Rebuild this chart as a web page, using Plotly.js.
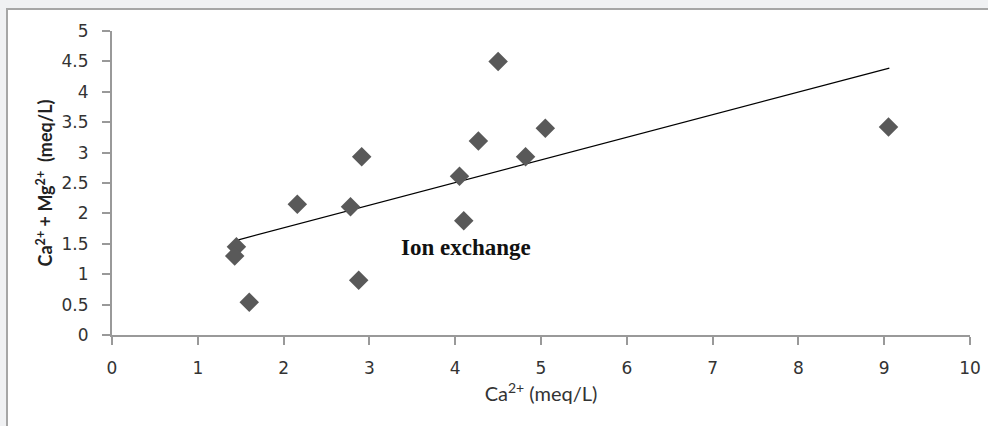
<!DOCTYPE html>
<html>
<head>
<meta charset="utf-8">
<script src="https://cdn.plot.ly/plotly-3.0.1.min.js"></script>
<style>
  html, body { margin: 0; padding: 0; background: #f0f1f3; width: 988px; height: 426px; overflow: hidden; }
  #frame { position: absolute; left: 6px; top: 8px; width: 1000px; height: 440px; background: #ffffff; border: 2px solid #a6a6a6; box-sizing: border-box; }
  #chart { position: absolute; left: 0; top: 0; width: 988px; height: 426px; }
</style>
</head>
<body>
<div id="frame"></div>
<div id="chart"></div>
<script>
// Data
const caValues   = [1.45, 1.43, 1.60, 2.16, 2.78, 2.875, 2.91, 4.05, 4.10, 4.27, 4.50, 4.82, 5.05, 9.05];
const caMgValues = [1.45, 1.30, 0.54, 2.15, 2.11, 0.90, 2.93, 2.61, 1.88, 3.19, 4.50, 2.93, 3.40, 3.42];
// Trend line end points (as drawn in the reference)
const trendX = [1.43, 9.06];
const trendY = [1.55, 4.39];
// Tick values
const xTicks = [0, 1, 2, 3, 4, 5, 6, 7, 8, 9, 10];
const yTicks = [0, 0.5, 1, 1.5, 2, 2.5, 3, 3.5, 4, 4.5, 5];
const yTickLabels = ['0', '0.5', '1', '1.5', '2', '2.5', '3', '3.5', '4', '4.5', '5'];

const tickFont = { family: 'DejaVu Sans', size: 17, color: '#333333' };

const traces = [
  {
    x: trendX, y: trendY, type: 'scatter', mode: 'lines',
    line: { color: '#000000', width: 1.3 },
    hoverinfo: 'skip', showlegend: false
  },
  {
    x: caValues, y: caMgValues, type: 'scatter', mode: 'markers',
    marker: { symbol: 'diamond', size: 15, color: '#595959', line: { width: 0 } },
    showlegend: false
  }
];

const layout = {
  width: 988, height: 426,
  paper_bgcolor: 'rgba(0,0,0,0)',
  plot_bgcolor: 'rgba(0,0,0,0)',
  margin: { l: 112, r: 18, t: 31, b: 91, pad: 0 },
  showlegend: false,
  xaxis: {
    range: [0, 10], tickvals: xTicks, ticktext: xTicks.map(String),
    showgrid: false, zeroline: false,
    showline: true, linecolor: '#999999', linewidth: 2,
    ticks: 'outside', ticklen: 8, tickwidth: 2, tickcolor: '#999999',
    ticklabelstandoff: 9,
    tickfont: tickFont,
    title: { text: 'Ca<sup>2+</sup> (meq/L)', font: { family: 'Lato', size: 20, color: '#333333' }, standoff: 10 }
  },
  yaxis: {
    range: [0, 5], tickvals: yTicks, ticktext: yTickLabels,
    showgrid: false, zeroline: false,
    showline: true, linecolor: '#999999', linewidth: 2,
    ticks: 'outside', ticklen: 8, tickwidth: 2, tickcolor: '#999999',
    ticklabelstandoff: 10,
    tickfont: tickFont,
    title: { text: '<b>Ca<sup>2+</sup> + Mg<sup>2+</sup>  (meq/L)</b>', font: { family: 'Lato', size: 18, color: '#222222' }, standoff: 4 }
  },
  annotations: [
    {
      x: 4.13, y: 1.44, xref: 'x', yref: 'y',
      text: '<b>Ion exchange</b>', showarrow: false,
      font: { family: 'Liberation Serif', size: 23, color: '#111111' }
    }
  ]
};

Plotly.newPlot('chart', traces, layout, { displayModeBar: false, staticPlot: true });
</script>
</body>
</html>
